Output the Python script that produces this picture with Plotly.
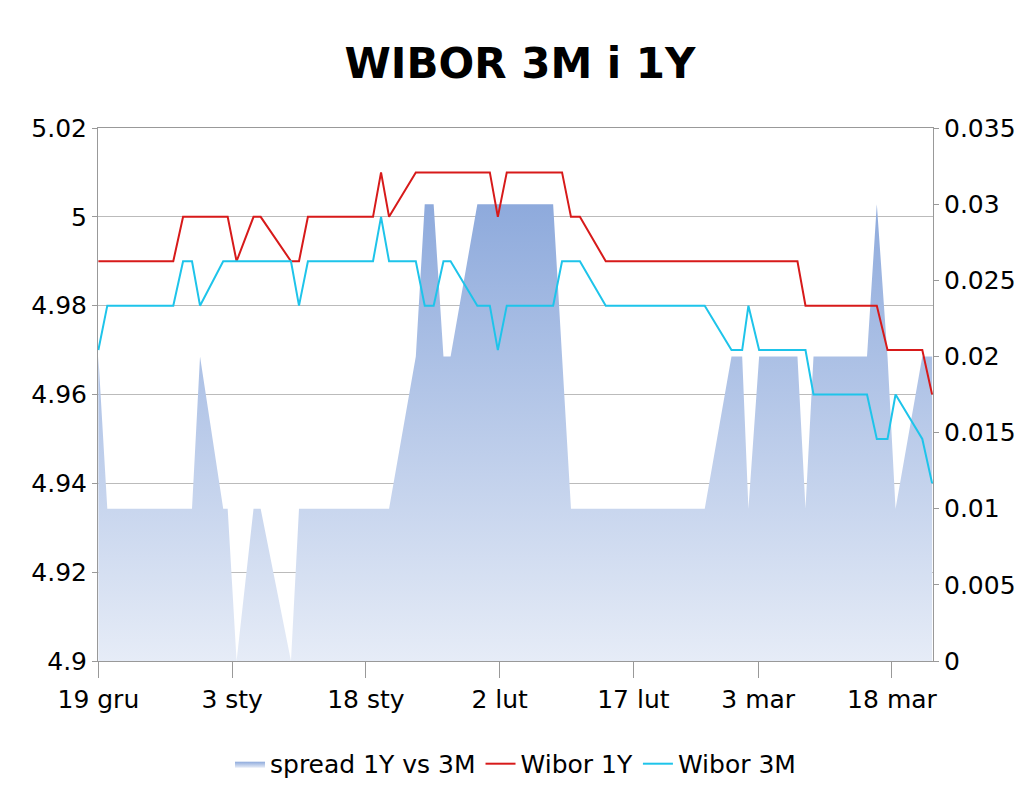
import pandas as pd
import plotly.graph_objects as go

start = pd.Timestamp("2012-12-19")
day_offsets = [0, 1, 8.4, 9.5, 10.5, 11.4, 14, 14.5, 15.5, 17.4, 18.2, 21.6, 22.5, 23.5,
               30.8, 31.7, 32.6, 35.6, 36.6, 37.6, 38.7, 39.5, 42.5, 43.9, 44.8, 45.8,
               51, 52, 53, 54, 56.9, 68, 71, 72.2, 72.9, 74.1, 78.4, 79.3, 80.2, 86.2,
               87.3, 88.5, 89.4, 92.4, 93.5]
wibor_1y = [4.99, 4.99, 4.99, 5.00, 5.00, 5.00, 5.00, 5.00, 4.99, 5.00, 5.00, 4.99, 4.99, 5.00,
            5.00, 5.01, 5.00, 5.01, 5.01, 5.01, 5.01, 5.01, 5.01, 5.01, 5.00, 5.01,
            5.01, 5.01, 5.00, 5.00, 4.99, 4.99, 4.99, 4.99, 4.99, 4.99, 4.99, 4.98, 4.98, 4.98,
            4.98, 4.97, 4.97, 4.97, 4.96]
wibor_3m = [4.97, 4.98, 4.98, 4.99, 4.99, 4.98, 4.99, 4.99, 4.99, 4.99, 4.99, 4.99, 4.98, 4.99,
            4.99, 5.00, 4.99, 4.99, 4.98, 4.98, 4.99, 4.99, 4.98, 4.98, 4.97, 4.98,
            4.98, 4.99, 4.99, 4.99, 4.98, 4.98, 4.97, 4.97, 4.98, 4.97, 4.97, 4.97, 4.96, 4.96,
            4.95, 4.95, 4.96, 4.95, 4.94]
spread = [round(a - b, 4) for a, b in zip(wibor_1y, wibor_3m)]
dates = [start + pd.Timedelta(hours=d * 24) for d in day_offsets]

tick_days = [0, 15, 30, 45, 60, 74, 89]
tick_labels = ["19 gru", "3 sty", "18 sty", "2 lut", "17 lut", "3 mar", "18 mar"]
tick_vals = [start + pd.Timedelta(days=d) for d in tick_days]

font = "DejaVu Sans"
fig = go.Figure()
# spread sits on the base axis (drawn first), rates on the overlaying axis so lines stay on top
fig.add_trace(go.Scatter(x=dates, y=spread, name="spread 1Y vs 3M", yaxis="y",
                         mode="lines", line=dict(width=0), fill="tozeroy",
                         fillgradient=dict(type="vertical",
                                           colorscale=[[0, "#e6ecf7"], [1, "#8eaadc"]])))
fig.add_trace(go.Scatter(x=dates, y=wibor_1y, name="Wibor 1Y", mode="lines", yaxis="y2",
                         line=dict(color="#d71a1a", width=2)))
fig.add_trace(go.Scatter(x=dates, y=wibor_3m, name="Wibor 3M", mode="lines", yaxis="y2",
                         line=dict(color="#1ec4ea", width=2)))

fig.update_layout(
    width=1024, height=791, paper_bgcolor="white", plot_bgcolor="white",
    margin=dict(l=90, r=99, t=120, b=124),
    title=dict(text="<b>WIBOR 3M i 1Y</b>", x=0.5, xanchor="center", y=0.93,
               yanchor="middle", font=dict(family=font, size=42, color="black")),
    font=dict(family=font, size=25, color="black"),
    xaxis=dict(range=[start - pd.Timedelta(hours=1), start + pd.Timedelta(hours=93.6 * 24)],
               tickvals=tick_vals, ticktext=tick_labels, showgrid=False,
               showline=True, linecolor="#999", mirror=True, ticks="outside",
               tickcolor="#999", ticklen=16, automargin=False),
    yaxis2=dict(range=[4.9, 5.02], dtick=0.02, tickformat="~g", showgrid=True,
                gridcolor="#bbb", showline=True, linecolor="#999", ticks="outside",
                tickcolor="#999", zeroline=False, side="left", overlaying="y",
                automargin=False),
    yaxis=dict(range=[0, 0.035], dtick=0.005, tickformat="~g",
               side="right", showgrid=False, showline=True, linecolor="#999",
               ticks="outside", tickcolor="#999", zeroline=False, automargin=False),
    legend=dict(orientation="h", x=0.5, xanchor="center", y=-0.15, yanchor="top",
                font=dict(size=25), traceorder="normal"),
    showlegend=True,
)
fig.write_html("out.html")
